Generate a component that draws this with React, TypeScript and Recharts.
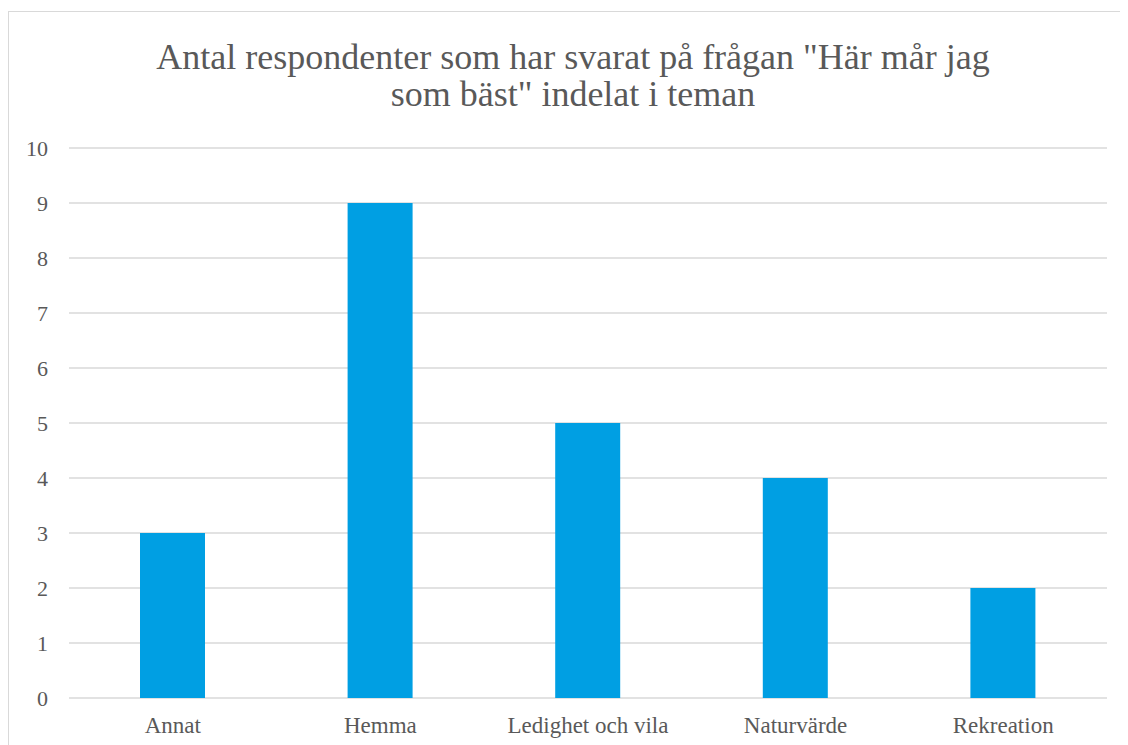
import { BarChart, Bar, XAxis, YAxis, CartesianGrid } from "recharts";

const categories = ["Annat", "Hemma", "Ledighet och vila", "Naturvärde", "Rekreation"];
const counts = [3, 9, 5, 4, 2];
const yTicks = [0, 1, 2, 3, 4, 5, 6, 7, 8, 9, 10];

const titleLines = [
  'Antal respondenter som har svarat på frågan "Här mår jag',
  'som bäst" indelat i teman',
];

const data = categories.map((name, i) => ({ name, value: counts[i] }));

const FONT = "'Times New Roman', 'Liberation Serif', serif";
const TEXT = "#595959";

export default function App() {
  return (
    <div
      style={{
        position: "relative",
        marginTop: 3,
        width: 1120,
        height: 734,
        borderTop: "1px solid #d9d9d9",
        borderLeft: "1px solid #d9d9d9",
        boxSizing: "border-box",
        background: "#fff",
      }}
    >
      <div
        style={{
          position: "absolute",
          left: 0,
          top: 27,
          width: 1128,
          textAlign: "center",
          fontFamily: FONT,
          fontSize: 36,
          lineHeight: "37px",
          color: TEXT,
        }}
      >
        {titleLines.map((l) => (
          <div key={l}>{l}</div>
        ))}
      </div>
      <div style={{ position: "absolute", left: -1, top: -1 }}>
        <BarChart
          width={1120}
          height={734}
          data={data}
          margin={{ top: 137, right: 21, left: 21, bottom: 17 }}
        >
          <CartesianGrid vertical={false} stroke="#d9d9d9" strokeWidth={1.3} />
          <XAxis
            dataKey="name"
            height={30}
            axisLine={false}
            tickLine={false}
            tickSize={0}
            tickMargin={19}
            interval={0}
            tick={{ fill: TEXT, fontSize: 23, fontFamily: FONT }}
          />
          <YAxis
            width={40}
            domain={[0, 10]}
            ticks={yTicks}
            interval={0}
            axisLine={false}
            tickLine={false}
            tickSize={0}
            tickMargin={21}
            tick={{ fill: TEXT, fontSize: 22, fontFamily: FONT }}
          />
          <Bar dataKey="value" fill="#009fe3" barSize={65} isAnimationActive={false} />
        </BarChart>
      </div>
    </div>
  );
}
